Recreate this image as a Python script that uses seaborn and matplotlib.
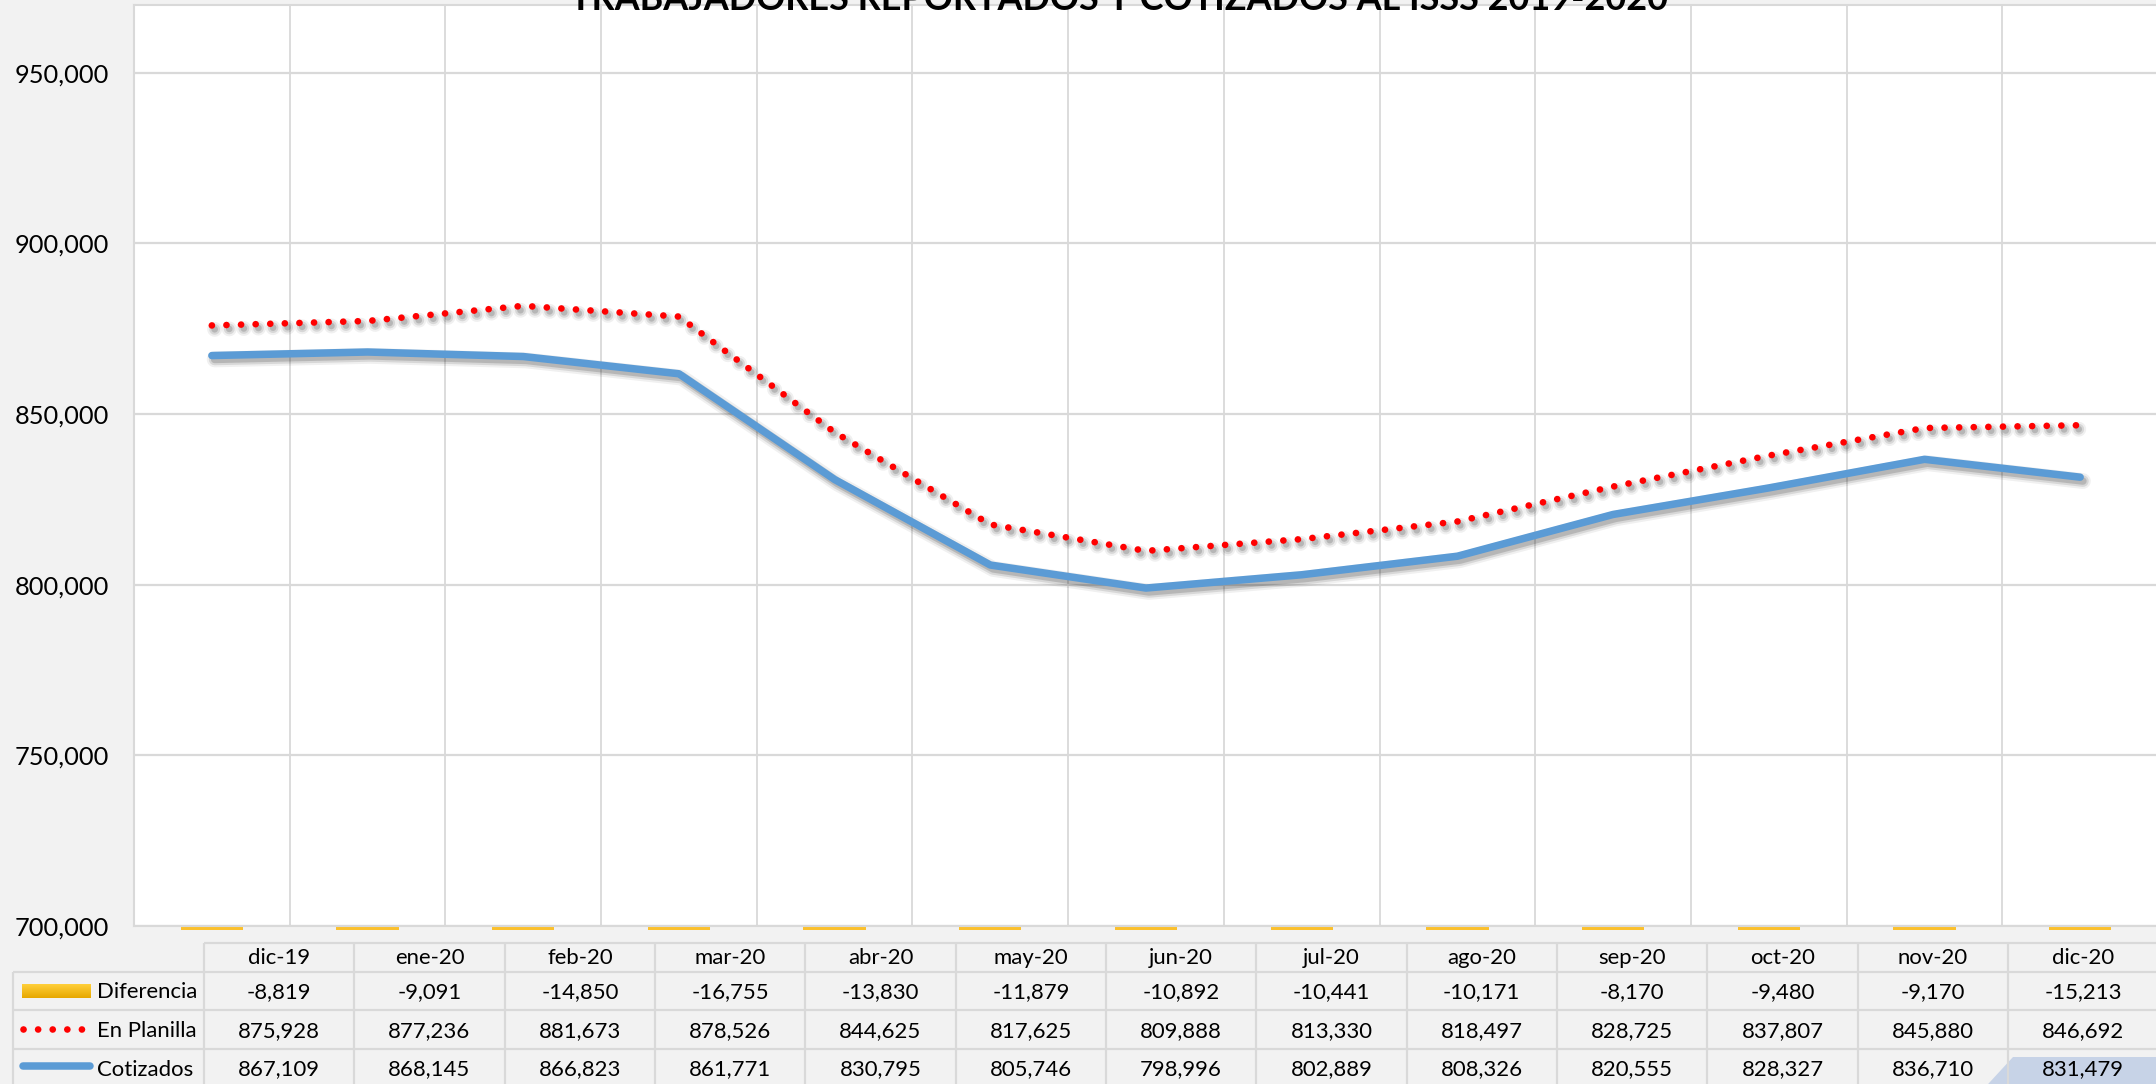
import numpy as np
import pandas as pd
import matplotlib
matplotlib.use("Agg")
import matplotlib.pyplot as plt
import matplotlib.patheffects as pe
from matplotlib.transforms import Bbox, TransformedBbox
from matplotlib.patches import Polygon
from matplotlib.colors import LinearSegmentedColormap
from matplotlib.ticker import FuncFormatter
import seaborn as sns

# ---------------- data ----------------
months = ["dic-19", "ene-20", "feb-20", "mar-20", "abr-20", "may-20", "jun-20",
          "jul-20", "ago-20", "sep-20", "oct-20", "nov-20", "dic-20"]
diferencia = [-8819, -9091, -14850, -16755, -13830, -11879, -10892,
              -10441, -10171, -8170, -9480, -9170, -15213]
en_planilla = [875928, 877236, 881673, 878526, 844625, 817625, 809888,
               813330, 818497, 828725, 837807, 845880, 846692]
cotizados = [867109, 868145, 866823, 861771, 830795, 805746, 798996,
             802889, 808326, 820555, 828327, 836710, 831479]
y_ticks = [700000, 750000, 800000, 850000, 900000, 950000]
row_labels = ["Diferencia", "En Planilla", "Cotizados"]
title = "TRABAJADORES REPORTADOS Y COTIZADOS AL ISSS 2019-2020"

# ---------------- style ----------------
sns.set_style("white")
plt.rcParams["font.family"] = ["Lato", "DejaVu Sans"]

BG = "#f2f2f2"
GRID = "#d9d9d9"
BLUE = "#5b9bd5"
RED = "#ff0000"
ORANGE = "#fbc02d"

W, H = 2156, 1084
fig = plt.figure(figsize=(W / 100, H / 100), dpi=100, facecolor=BG)

# plot area (pixel layout)
PL, PR, PT, PB = 134, 2158, 5, 926
ax = fig.add_axes([PL / W, (H - PB) / H, (PR - PL) / W, (PB - PT) / H])
ax.set_facecolor("white")

df = pd.DataFrame({"pos": np.arange(len(months)), "mes": months,
                   "Diferencia": diferencia, "En Planilla": en_planilla,
                   "Cotizados": cotizados})

Y_MIN, Y_MAX = 700000, 969800

# Diferencia bars: drawn from the axis crossing, only a thin sliver shows below the axis
bars = ax.bar(df["pos"], df["Diferencia"], width=0.4, bottom=Y_MIN,
              color=ORANGE, linewidth=0, zorder=1)
strip = TransformedBbox(Bbox.from_extents(0, -3.6 / (PB - PT), 1, 0), ax.transAxes)
for p in bars:
    p.set_clip_path(None)
    p.set_clip_box(strip)
    p.set_clip_on(True)


def shadow(lw):
    return [
        pe.SimpleLineShadow(offset=(2.0, -2.8), shadow_color="k", alpha=0.06, linewidth=lw + 6),
        pe.SimpleLineShadow(offset=(2.0, -2.8), shadow_color="k", alpha=0.10, linewidth=lw + 3),
        pe.SimpleLineShadow(offset=(2.0, -2.8), shadow_color="k", alpha=0.15, linewidth=lw),
        pe.Normal(),
    ]


# En Planilla (dotted red)
LW_RED = 4.8
sns.lineplot(data=df, x="pos", y="En Planilla", ax=ax, color=RED,
             linewidth=LW_RED, zorder=3)
red_line = ax.lines[-1]
red_line.set_linestyle((0, (0.01, 2.18)))
red_line.set_dash_capstyle("round")
red_line.set_path_effects(shadow(LW_RED))

# Cotizados (solid blue)
LW_BLUE = 5.4
sns.lineplot(data=df, x="pos", y="Cotizados", ax=ax, color=BLUE,
             linewidth=LW_BLUE, zorder=4)
blue_line = ax.lines[-1]
blue_line.set_solid_capstyle("round")
blue_line.set_solid_joinstyle("round")
blue_line.set_path_effects(shadow(LW_BLUE))

ax.set_xlim(-0.5, len(months) - 0.5)
ax.set_ylim(Y_MIN, Y_MAX)
ax.set_yticks(y_ticks)
ax.yaxis.set_major_formatter(FuncFormatter(lambda v, p: f"{v:,.0f}"))
ax.set_xticks([])
ax.set_xticks(np.arange(0.5, len(months) - 1, 1), minor=True)
ax.set_axisbelow(True)
ax.yaxis.grid(True, color=GRID, linewidth=1.6)
ax.xaxis.grid(True, which="minor", color=GRID, linewidth=1.3)
ax.tick_params(axis="both", which="both", length=0)
ax.tick_params(axis="y", pad=18.0, labelsize=18.3, labelcolor="black")
ax.set_xlabel("")
ax.set_ylabel("")
for s in ax.spines.values():
    s.set_color(GRID)
    s.set_linewidth(1.5)

# ---------------- data table ----------------
tab = fig.add_axes([0, 0, 1, 1], facecolor="none")
tab.set_zorder(5)
tab.axis("off")

LEFT = 13
COL0 = 204
COLW = 150.33
ROWS = [943, 972, 1010, 1049, 1092]
RIGHT = COL0 + COLW * len(months) + 2
TEXT_FS = 15.9
LINE_W = 1.6

# highlight artefact in the last cell
hl = Polygon([(2013, 1057), (2170, 1057), (2170, 1095), (1978, 1095)],
             closed=True, facecolor="#c7d3e7", edgecolor="none", zorder=1)
tab.add_patch(hl)

tab.hlines(ROWS[0], COL0, RIGHT, color=GRID, lw=LINE_W, zorder=2)
for yv in ROWS[1:4]:
    tab.hlines(yv, LEFT, RIGHT, color=GRID, lw=LINE_W, zorder=2)
tab.vlines(LEFT, ROWS[1], ROWS[4], color=GRID, lw=LINE_W, zorder=2)
for k in range(len(months) + 1):
    tab.vlines(COL0 + k * COLW, ROWS[0], ROWS[4], color=GRID, lw=LINE_W, zorder=2)

baselines = [964.5, 998.5, 1037, 1075.5]
series = [diferencia, en_planilla, cotizados]
for k, m in enumerate(months):
    cx = COL0 + (k + 0.5) * COLW
    tab.text(cx, baselines[0], m, ha="center", va="baseline", fontsize=TEXT_FS, color="black", zorder=3)
    for r, vals in enumerate(series):
        tab.text(cx, baselines[r + 1], f"{vals[k]:,}", ha="center", va="baseline",
                 fontsize=TEXT_FS, color="black", zorder=3)

for r, lab in enumerate(row_labels):
    tab.text(97, baselines[r + 1], lab, ha="left", va="baseline", fontsize=TEXT_FS,
             color="black", zorder=3)

# legend keys
grad = LinearSegmentedColormap.from_list("g", ["#ffcf3a", "#e7a800"])
tab.imshow(np.linspace(0, 1, 32).reshape(-1, 1), cmap=grad, aspect="auto",
           extent=[22, 91, 998, 984], zorder=3)
tab.plot([23, 83], [1029, 1029], color=RED, lw=LW_RED, linestyle=(0, (0.01, 2.18)),
         dash_capstyle="round", zorder=3)
tab.plot([23, 90], [1066, 1066], color=BLUE, lw=LW_BLUE, solid_capstyle="round", zorder=3)

tab.set_xlim(0, W)
tab.set_ylim(H, 0)

# ---------------- title (cut at top edge, as in the reference) ----------------
t = fig.text(1119 / W, 1 - 9.5 / H, title, ha="center", va="baseline",
             fontweight="bold", fontsize=26, color="black", zorder=10)
fig.canvas.draw()
wpx = t.get_window_extent().width
t.set_fontsize(26 * 1098 / wpx)

fig.savefig("out.png", dpi=100, facecolor=BG)
